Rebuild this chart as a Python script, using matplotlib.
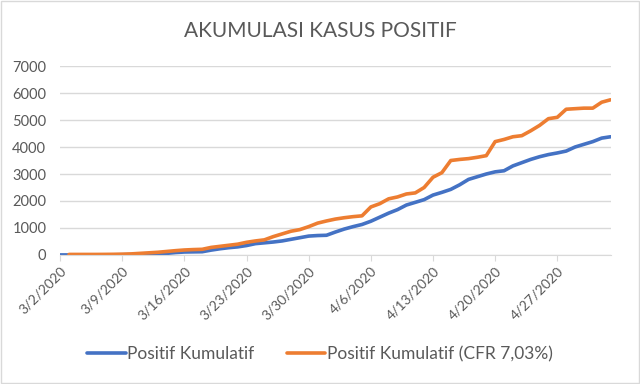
import numpy as np
import pandas as pd
import matplotlib
matplotlib.use("Agg")
import matplotlib.pyplot as plt

plt.rcParams['font.family'] = ['Lato', 'DejaVu Sans']

# tanggal harian 3/2/2020 - 5/3/2020
dates = pd.date_range("2020-03-02", "2020-05-03", freq="D")

positif = [2, 2, 2, 2, 4, 4, 6, 10, 15, 20,
           30, 40, 60, 90, 110, 115, 120, 180, 230, 270,
           300, 350, 420, 450, 480, 520, 580, 640, 700, 720,
           730, 850, 960, 1050, 1130, 1250, 1400, 1550, 1680, 1850,
           1950, 2050, 2220, 2320, 2430, 2600, 2800, 2900, 3000, 3080,
           3120, 3300, 3420, 3540, 3640, 3720, 3780, 3850, 4000, 4100,
           4200, 4330, 4380]

positif_cfr = [np.nan, 20, 20, 20, 20, 22, 25, 30, 40, 60,
               80, 100, 130, 160, 185, 200, 210, 280, 320, 360,
               400, 470, 520, 560, 680, 780, 880, 940, 1050, 1180,
               1260, 1330, 1380, 1420, 1450, 1780, 1900, 2080, 2150, 2260,
               2300, 2500, 2880, 3050, 3500, 3540, 3570, 3620, 3680, 4200,
               4280, 4380, 4420, 4600, 4800, 5050, 5100, 5400, 5420, 5440,
               5440, 5660, 5750]

tick_dates = dates[::7][:9]
tick_labels = [f"{d.month}/{d.day}/{d.year}" for d in tick_dates]
y_ticks = [0, 1000, 2000, 3000, 4000, 5000, 6000, 7000]

fig = plt.figure(figsize=(6.4, 3.84), dpi=100)
ax = fig.add_axes([0.094, 0.336, 0.86, 0.492])

x = np.arange(len(dates))
ax.plot(x, positif, color='#4472C4', lw=2.6, solid_capstyle='round',
        label='Positif Kumulatif')
ax.plot(x, positif_cfr, color='#ED7D31', lw=2.6, solid_capstyle='round',
        label='Positif Kumulatif (CFR 7,03%)')

ax.set_xlim(0, len(dates) - 1)
ax.set_ylim(0, 7000)
ax.set_yticks(y_ticks)
ax.set_xticks([dates.get_loc(d) for d in tick_dates])
ax.set_xticklabels(tick_labels, rotation=45, ha='right', rotation_mode='anchor')
ax.tick_params(axis='x', colors='#595959', labelsize=10, length=4, color='#d9d9d9', pad=3)
ax.tick_params(axis='y', colors='#595959', labelsize=10.5, length=0, pad=10)

ax.grid(axis='y', color='#d9d9d9', lw=1)
ax.set_axisbelow(True)
for s in ['top', 'right', 'left']:
    ax.spines[s].set_visible(False)
ax.spines['bottom'].set_color('#d9d9d9')

fig.text(0.5, 0.92, 'AKUMULASI KASUS POSITIF', ha='center', va='center',
         fontsize=15, color='#595959')

fig.legend(loc='center', bbox_to_anchor=(0.5, 0.078), ncol=2, frameon=False,
           prop={'size': 12.5}, labelcolor='#595959', handlelength=2.2,
           columnspacing=1.85, handletextpad=0.1)

# bingkai luar
fig.patches.append(plt.Rectangle((0.002, 0.003), 0.996, 0.994, transform=fig.transFigure,
                                 fill=False, edgecolor='#d9d9d9', lw=1))

fig.savefig('out.png', dpi=100)
